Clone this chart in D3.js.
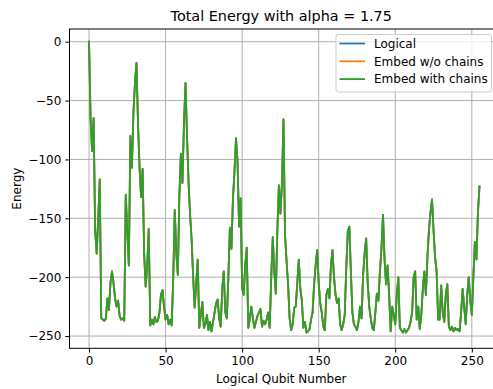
<!DOCTYPE html>
<html><head><meta charset="utf-8">
<script src="https://cdn.jsdelivr.net/npm/d3@7"></script>
<style>body{margin:0;background:#fff}svg{display:block;font-family:"DejaVu Sans",sans-serif}</style>
</head><body><svg id="c" width="493" height="389"></svg>
<script>
const energyLogical = [
0,-65,-93,-65,-160,-180,-150,-117,-235,-236,
-237,-235,-218,-228,-205,-195,-205,-218,-225,-220,
-233,-236,-235,-237,-130,-160,-190,-80,-107,-60,
-35,-18,-70,-107,-132,-108,-180,-208,-190,-159,
-241,-236,-240,-234,-238,-237,-230,-215,-211,-225,
-236,-232,-240,-236,-241,-200,-143,-180,-198,-130,
-95,-120,-70,-35,-80,-120,-147,-168,-200,-226,
-205,-185,-243,-232,-221,-243,-240,-232,-245,-238,
-246,-238,-230,-222,-219,-235,-242,-210,-195,-230,
-235,-200,-158,-176,-133,-110,-82,-102,-157,-133,
-209,-215,-190,-175,-243,-235,-225,-235,-243,-238,
-233,-230,-227,-242,-237,-240,-236,-230,-243,-200,
-166,-195,-214,-160,-122,-146,-120,-66,-164,-186,
-206,-235,-245,-240,-226,-225,-205,-185,-210,-220,
-243,-238,-247,-246,-244,-236,-230,-206,-190,-177,
-205,-222,-230,-242,-245,-215,-210,-218,-190,-177,
-200,-215,-222,-218,-240,-245,-240,-232,-192,-161,
-157,-195,-230,-240,-242,-245,-238,-225,-235,-198,
-180,-167,-205,-225,-235,-243,-245,-230,-214,-220,
-195,-175,-147,-185,-206,-190,-215,-246,-225,-232,
-240,-215,-200,-243,-245,-247,-244,-247,-245,-243,
-238,-230,-200,-195,-236,-225,-244,-232,-210,-195,
-215,-183,-160,-145,-134,-160,-183,-195,-236,-236,
-207,-230,-238,-215,-206,-242,-245,-242,-246,-243,
-245,-244,-246,-230,-210,-225,-240,-215,-200,-220,
-232,-200,-170,-185,-145,-123];
// The three series coincide in the picture (green drawn on top hides the others)
const energyEmbedNoChains = energyLogical.slice();
const energyEmbedWithChains = energyLogical.slice();
const seriesNames = ["Logical","Embed w/o chains","Embed with chains"];
const seriesColors = ["#1f77b4","#ff7f0e","#2ca02c"];
const xTicks = [0,50,100,150,200,250];
const yTicks = [0,-50,-100,-150,-200,-250];
const titleText = "Total Energy with alpha = 1.75";
const xLabel = "Logical Qubit Number";
const yLabel = "Energy";

const seriesData = [energyLogical, energyEmbedNoChains, energyEmbedWithChains];
const svg = d3.select("#c");
const L=69.5, R=499, T=29, B=348.3;
const n = energyLogical.length;
const x = d3.scaleLinear().domain([-(n-1)*0.05,(n-1)*1.05]).range([L,R]);
const y = d3.scaleLinear().domain([-260.4,10.8]).range([B,T]);
const fmt = d => d<0 ? "\u2212"+Math.abs(d) : ""+d;

const grid = svg.append("g");
xTicks.forEach(t=>grid.append("line").attr("x1",x(t)).attr("x2",x(t)).attr("y1",T).attr("y2",B).attr("stroke","#b0b0b0").attr("stroke-width",1));
yTicks.forEach(t=>grid.append("line").attr("x1",L).attr("x2",R).attr("y1",y(t)).attr("y2",y(t)).attr("stroke","#b0b0b0").attr("stroke-width",1));

const line = d3.line().x((d,i)=>x(i)).y(d=>y(d));
seriesData.forEach((s,k)=>{
  svg.append("path").datum(s).attr("d",line).attr("fill","none")
    .attr("stroke",seriesColors[k]).attr("stroke-width",1.8).attr("stroke-linejoin","round").attr("stroke-linecap","square");
});

const xAxis = d3.axisBottom(x).tickValues(xTicks).tickSize(4.2).tickPadding(4).tickFormat(fmt);
const gx = svg.append("g").attr("transform",`translate(0,${B})`).call(xAxis);
const yAxis = d3.axisLeft(y).tickValues(yTicks).tickSize(4.2).tickPadding(4).tickFormat(fmt);
const gy = svg.append("g").attr("transform",`translate(${L},0)`).call(yAxis);
[gx,gy].forEach(g=>{g.select(".domain").remove();
  g.selectAll("text").attr("font-size",12).attr("fill","#000").attr("font-family","DejaVu Sans");
  g.selectAll("line").attr("stroke","#000").attr("stroke-width",1);});
gx.selectAll("text").attr("dy","0.71em").attr("y",8.5);

svg.append("rect").attr("x",L).attr("y",T).attr("width",R-L).attr("height",B-T)
  .attr("fill","none").attr("stroke","#000").attr("stroke-width",1);

svg.append("text").attr("x",(L+R)/2 - 3).attr("y",21).attr("text-anchor","middle")
  .attr("font-size",14.4).text(titleText);
svg.append("text").attr("x",(L+R)/2 - 3).attr("y",382.5).attr("text-anchor","middle")
  .attr("font-size",12).text(xLabel);
svg.append("text").attr("transform",`translate(21,${(T+B)/2}) rotate(-90)`).attr("text-anchor","middle")
  .attr("font-size",12).text(yLabel);

const lg = svg.append("g");
lg.append("rect").attr("x",336).attr("y",34.5).attr("width",155.5).attr("height",57.5).attr("rx",2.5)
  .attr("fill","#fff").attr("fill-opacity",0.8).attr("stroke","#cccccc").attr("stroke-width",1);
seriesNames.forEach((nm,k)=>{
  const yy = 43.5 + k*17.8;
  lg.append("line").attr("x1",339.5).attr("x2",365).attr("y1",yy).attr("y2",yy).attr("stroke",seriesColors[k]).attr("stroke-width",1.8);
  lg.append("text").attr("x",374).attr("y",yy+4.3).attr("font-size",12).text(nm);
});
</script></body></html>
